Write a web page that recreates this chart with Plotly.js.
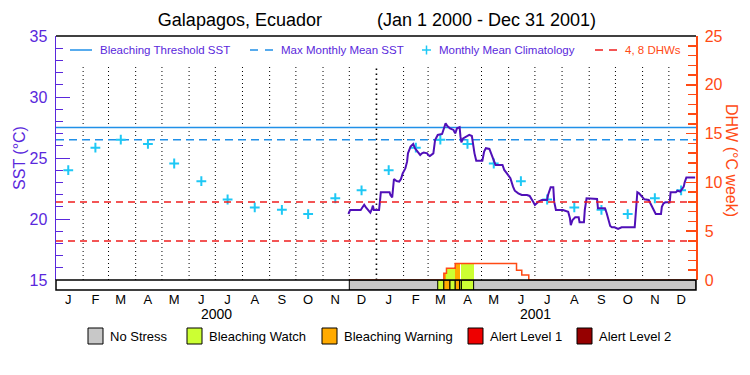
<!DOCTYPE html>
<html><head><meta charset="utf-8">
<script src="https://cdn.plot.ly/plotly-3.0.1.min.js"></script>
<style>html,body{margin:0;padding:0;background:#fff}#chart{width:750px;height:375px}</style>
</head><body><div id="chart"></div>
<script>
// ---------------- DATA ----------------
const monthLetters = ['J','F','M','A','M','J','J','A','S','O','N','D'];
const years = ['2000','2001'];
// Monthly mean climatology SST (°C), same for each year
const climMonthly = [24.0, 25.85, 26.5, 26.15, 24.55, 23.1, 21.6, 20.95, 20.75, 20.4, 21.7, 22.35];
const maxMonthlyMean = 26.5;
const bleachingThreshold = 27.5;
const dhwLevels = [4, 8];

// Satellite SST (°C)
const sstDates = ['2000-11-30','2000-12-02','2000-12-14','2000-12-16','2000-12-18','2000-12-20','2000-12-22','2000-12-25','2000-12-27','2000-12-28','2000-12-29',
'2001-01-04','2001-01-05','2001-01-06','2001-01-16','2001-01-17','2001-01-19','2001-01-20','2001-01-21','2001-01-24','2001-01-27','2001-01-29','2001-01-31',
'2001-02-03','2001-02-05','2001-02-06','2001-02-09','2001-02-12','2001-02-14','2001-02-17','2001-02-20','2001-02-22','2001-02-24','2001-02-28',
'2001-03-01','2001-03-03','2001-03-07','2001-03-09','2001-03-12','2001-03-17','2001-03-19','2001-03-21','2001-03-23','2001-03-26','2001-03-30',
'2001-04-01','2001-04-03','2001-04-06','2001-04-07','2001-04-08','2001-04-10','2001-04-14','2001-04-17','2001-04-20','2001-04-21','2001-04-23','2001-04-25',
'2001-05-02','2001-05-04','2001-05-06','2001-05-10','2001-05-12','2001-05-15','2001-05-17','2001-05-25','2001-05-27','2001-05-30',
'2001-06-03','2001-06-06','2001-06-08','2001-06-12','2001-06-16','2001-06-22','2001-06-25','2001-06-29',
'2001-07-01','2001-07-05','2001-07-09','2001-07-15','2001-07-16','2001-07-19','2001-07-22','2001-07-23','2001-07-25',
'2001-08-02','2001-08-08','2001-08-10','2001-08-11','2001-08-13','2001-08-16','2001-08-20','2001-08-21','2001-08-26','2001-08-27','2001-08-29',
'2001-09-10','2001-09-11','2001-09-19','2001-09-21','2001-09-23','2001-09-25','2001-09-27','2001-09-30',
'2001-10-04','2001-10-06','2001-10-08','2001-10-23','2001-10-24','2001-10-26','2001-10-28','2001-10-31',
'2001-11-03','2001-11-08','2001-11-09','2001-11-11','2001-11-13','2001-11-16','2001-11-22','2001-11-23','2001-11-25','2001-11-27',
'2001-12-02','2001-12-03','2001-12-09','2001-12-11','2001-12-14','2001-12-16','2001-12-18','2001-12-19','2001-12-21','2001-12-31'];
const sstValues = [20.41,20.74,20.74,20.96,21.17,20.96,20.74,20.52,20.85,21.1,20.74,
20.74,21.42,22.19,22.19,21.97,21.78,22.38,23.28,23.11,23.06,23.28,23.74,
24.15,24.70,25.38,25.93,26.15,25.8,25.52,25.25,25.38,25.44,25.38,
25.25,25.16,25.38,26.48,26.89,26.97,27.43,27.84,27.62,27.43,27.30,
27.02,27.43,27.52,26.75,26.29,26.61,26.75,26.89,26.8,26.2,25.38,24.78,
24.78,25.52,25.8,25.74,25.38,24.70,24.43,24.43,24.02,23.74,
23.34,22.65,22.32,22.1,21.97,21.97,21.89,21.42,
21.15,21.42,21.56,21.56,21.97,22.6,22.6,21.42,20.74,
20.74,20.6,20.06,19.5,19.92,20.14,20.14,19.73,19.73,20.74,21.7,
21.64,20.88,20.88,20.47,19.92,19.43,19.32,19.32,
19.18,19.24,19.32,19.32,20.47,22.19,22.1,21.83,
21.61,21.56,21.42,21.15,20.8,20.41,20.41,21.0,21.29,21.37,
21.37,22.19,22.19,22.32,22.24,22.43,22.65,22.98,23.41,23.41];

// Degree Heating Weeks (°C week), stepwise
const dhwDates  = ['2000-12-01','2001-03-19','2001-03-22','2001-04-01','2001-06-10','2001-06-16','2001-06-24','2001-12-31'];
const dhwValues = [0, 0.68, 1.2, 1.7, 1.0, 0.5, 0, 0];

// Stress level periods (0 No Stress .. 4 Alert Level 2)
const statusStart = ['2000-12-01','2001-03-12','2001-03-19','2001-03-26','2001-04-01','2001-04-06','2001-04-08'];
const statusEnd   = ['2002-01-01','2001-03-19','2001-03-26','2001-04-01','2001-04-06','2001-04-08','2001-04-22'];
const statusLevel = [0, 1, 2, 1, 2, 1, 1];
// Stress-coloured DHW columns
const fillStart = ['2001-03-19','2001-03-22','2001-03-26','2001-04-01','2001-04-08'];
const fillEnd   = ['2001-03-22','2001-03-26','2001-04-01','2001-04-06','2001-04-22'];
const fillDhw   = [0.68, 1.2, 1.2, 1.7, 1.7];
const fillLevel = [2, 1, 1, 2, 1];

const stressNames  = ['No Stress','Bleaching Watch','Bleaching Warning','Alert Level 1','Alert Level 2'];
const stressColors = ['#C8C8C8','#CCFF33','#FFAA00','#EE0000','#960000'];

// ---------------- STYLE ----------------
const PURPLE = '#5A28DC', LINEP = '#5010B8', ORANGE = '#FF4A14', RED = '#F01E1E',
      BLUE = '#2090E8', CYAN = '#1EC8F5';
const FONT = 'Liberation Sans, Arial, sans-serif';
const ML = 56, MR = 54, MT = 36, MB = 85;
const PW = 750 - ML - MR, PH = 375 - MT - MB;   // 640 x 254
const BAR = 10 / PH;
const px = v => (v - ML) / PW;
const py = v => (375 - MB - v) / PH;

// ---------------- DERIVED ----------------
const midMonths = [], monthStarts = [], tickText = [];
years.forEach(y => monthLetters.forEach((m, i) => {
  const mm = String(i + 1).padStart(2, '0');
  midMonths.push(`${y}-${mm}-15`);
  monthStarts.push(`${y}-${mm}-01`);
  tickText.push(m);
}));
const climX = midMonths, climY = years.flatMap(() => climMonthly);
const t = s => Date.parse(s + 'T00:00:00Z');
const mid = (a, b) => (t(a) + t(b)) / 2;
const xFull = ['2000-01-01', '2002-01-01'];

const traces = [];
// stress-coloured DHW columns
traces.push({type:'bar', xaxis:'x', yaxis:'y2', x: fillStart.map((s,i)=>mid(s, fillEnd[i])),
  width: fillStart.map((s,i)=>t(fillEnd[i])-t(s)), y: fillDhw, base: 0,
  marker:{color: fillLevel.map(l=>stressColors[l]), line:{width:0}}, hoverinfo:'skip', showlegend:false});
// status bar
traces.push({type:'bar', xaxis:'x', yaxis:'y3', x: statusStart.map((s,i)=>mid(s, statusEnd[i])),
  width: statusStart.map((s,i)=>t(statusEnd[i])-t(s)), y: statusStart.map(()=>1), base: 0,
  marker:{color: statusLevel.map(l=>stressColors[l]), line:{width:1, color:'#000'}}, showlegend:false});
// reference lines
traces.push({type:'scatter', mode:'lines', x: xFull, y: [bleachingThreshold, bleachingThreshold],
  line:{color:BLUE, width:1.5}, name:'Bleaching Threshold SST', showlegend:false});
traces.push({type:'scatter', mode:'lines', x: xFull, y: [maxMonthlyMean, maxMonthlyMean],
  line:{color:BLUE, width:1.5, dash:'8px,5px'}, name:'Max Monthly Mean SST', showlegend:false});
dhwLevels.forEach(l => traces.push({type:'scatter', mode:'lines', yaxis:'y2', x: xFull, y:[l,l],
  line:{color:RED, width:1.5, dash:'7px,5px'}, name:'4, 8 DHWs', showlegend:false}));
// DHW line
traces.push({type:'scatter', mode:'lines', yaxis:'y2', x: dhwDates, y: dhwValues,
  line:{color:ORANGE, width:1.5, shape:'hv'}, name:'DHW', showlegend:false, cliponaxis:false});
// climatology
traces.push({type:'scatter', mode:'markers', x: climX, y: climY,
  marker:{symbol:'cross-thin-open', size:7, line:{color:CYAN, width:2}, color:CYAN},
  name:'Monthly Mean Climatology', showlegend:false});
// SST
traces.push({type:'scatter', mode:'lines', x: sstDates, y: sstValues,
  line:{color:LINEP, width:2}, name:'SST', showlegend:false});

// ---------------- SHAPES / ANNOTATIONS ----------------
const shapes = [];
monthStarts.slice(1).forEach(d => {
  const isYear = d.endsWith('-01-01');
  shapes.push({type:'line', xref:'x', yref:'y', x0:d, x1:d, y0:15, y1:32.6, layer:'below',
    line:{color:'#000', width: isYear ? 1.6 : 1, dash: isYear ? '1.6px,3.4px' : '1px,3px'}});
});
// frame
shapes.push({type:'line', xref:'paper', yref:'paper', x0:0, x1:1, y0:1, y1:1, line:{color:'#000', width:1.5}});
shapes.push({type:'rect', xref:'paper', yref:'paper', x0:0, x1:1, y0:0, y1:BAR, line:{color:'#000', width:1.5}});

const annotations = [];
// top legend
const legY = py(50);
shapes.push({type:'line', xref:'paper', yref:'paper', x0:px(70), x1:px(92), y0:legY, y1:legY, line:{color:BLUE, width:1.5}});
shapes.push({type:'line', xref:'paper', yref:'paper', x0:px(250), x1:px(274), y0:legY, y1:legY, line:{color:BLUE, width:1.5, dash:'8px,7px'}});
shapes.push({type:'line', xref:'paper', yref:'paper', x0:px(422), x1:px(431), y0:legY, y1:legY, line:{color:CYAN, width:1.5}});
shapes.push({type:'line', xref:'paper', yref:'paper', x0:px(426.5), x1:px(426.5), y0:py(45.5), y1:py(54.5), line:{color:CYAN, width:1.5}});
shapes.push({type:'line', xref:'paper', yref:'paper', x0:px(595), x1:px(618), y0:legY, y1:legY, line:{color:RED, width:1.5, dash:'8px,6px'}});
const legItems = [['Bleaching Threshold SST', 98, PURPLE], ['Max Monthly Mean SST', 279, PURPLE],
                  ['Monthly Mean Climatology', 437, PURPLE], ['4, 8 DHWs', 623, ORANGE]];
legItems.forEach(([txt, x, c]) => annotations.push({xref:'paper', yref:'paper', x:px(x), y:legY,
  xanchor:'left', yanchor:'middle', text:txt, showarrow:false, font:{family:FONT, size:11.5, color:c}}));
// years
years.forEach(y => annotations.push({xref:'x', yref:'paper', x:`${y}-07-02`, y:py(314), text:y,
  showarrow:false, xanchor:'center', yanchor:'middle', font:{family:FONT, size:14, color:'#000'}}));
// right axis title
annotations.push({xref:'paper', yref:'paper', x:px(732), y:py(160), text:'DHW (°C week)', textangle:90,
  showarrow:false, xanchor:'center', yanchor:'middle', font:{family:FONT, size:16, color:ORANGE}});
// bottom legend
const boxX = [88, 187, 322, 468, 577];
stressNames.forEach((n, i) => {
  shapes.push({type:'rect', xref:'paper', yref:'paper', x0:px(boxX[i]), x1:px(boxX[i]+15), y0:py(344), y1:py(328),
    fillcolor: stressColors[i], line:{color:'#000', width:1}});
  annotations.push({xref:'paper', yref:'paper', x:px(boxX[i]+20), y:py(336), text:n, showarrow:false,
    xanchor:'left', yanchor:'middle', font:{family:FONT, size:13, color:'#000'}});
});

const layout = {
  width:750, height:375, margin:{l:ML, r:MR, t:MT, b:MB}, paper_bgcolor:'#fff', plot_bgcolor:'#fff',
  font:{family:FONT}, showlegend:false, barmode:'overlay', bargap:0,
  title:{text:'Galapagos, Ecuador\u00A0\u00A0\u00A0\u00A0\u00A0\u00A0\u00A0\u00A0\u00A0\u00A0\u00A0(Jan 1 2000 - Dec 31 2001)',
    font:{family:FONT, size:18, color:'#000'}, xref:'container', x:377/750, xanchor:'center',
    yref:'container', y:1-20/375, yanchor:'middle'},
  xaxis:{type:'date', range:xFull, anchor:'y3', tickvals:midMonths, ticktext:tickText, ticks:'',
    showgrid:false, zeroline:false, showline:false, tickfont:{family:FONT, size:13, color:'#000'}, fixedrange:true},
  yaxis:{domain:[BAR,1], range:[15,35], tickvals:[15,20,25,30,35], ticks:'inside', ticklen:14, tickwidth:1,
    tickcolor:PURPLE, minor:{tick0:15, dtick:1, ticks:'inside', ticklen:7, tickcolor:PURPLE, tickwidth:1},
    showline:true, linecolor:PURPLE, linewidth:1.5, showgrid:false, zeroline:false, ticklabelstandoff:4,
    tickfont:{family:FONT, size:16, color:PURPLE},
    title:{text:'SST (°C)', font:{family:FONT, size:16, color:PURPLE}, standoff:0}},
  yaxis2:{overlaying:'y', side:'right', anchor:'x', range:[0,25], tickvals:[0,5,10,15,20,25], ticks:'inside',
    ticklen:10, tickwidth:1.5, tickcolor:ORANGE, minor:{tick0:0, dtick:1, ticks:'inside', ticklen:8, tickcolor:ORANGE, tickwidth:1.5},
    showline:true, linecolor:ORANGE, linewidth:1.5, showgrid:false, zeroline:false, ticklabelstandoff:4,
    tickfont:{family:FONT, size:16, color:ORANGE}},
  yaxis3:{domain:[0,BAR], range:[0,1], anchor:'x', visible:false, fixedrange:true},
  shapes, annotations
};
Plotly.newPlot('chart', traces, layout, {staticPlot:true});
</script></body></html>
